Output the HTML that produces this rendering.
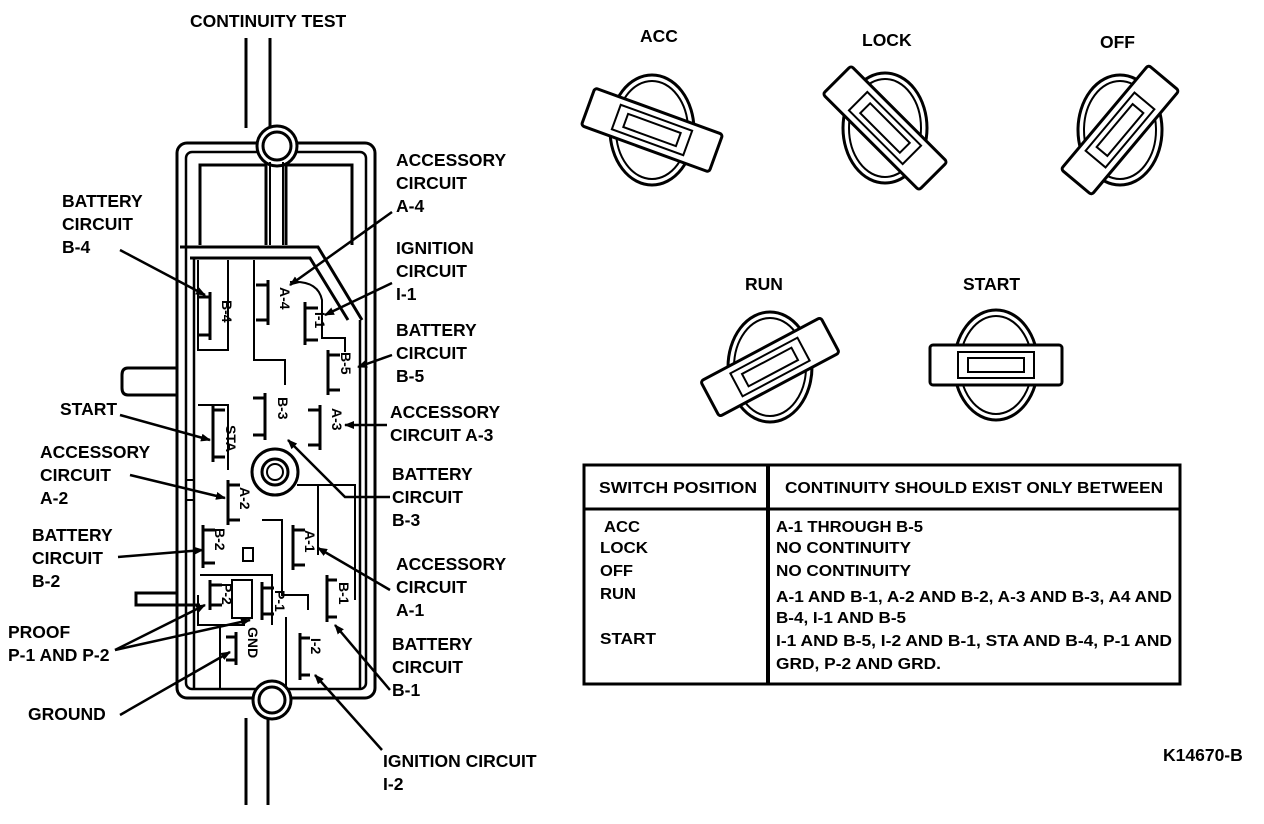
<!DOCTYPE html>
<html><head><meta charset="utf-8"><style>
html,body{margin:0;padding:0;background:#fff;}
svg{display:block;}
text{font-family:"Liberation Sans",sans-serif;font-weight:bold;fill:#000;}
</style></head><body>
<svg width="1264" height="824" viewBox="0 0 1264 824" xmlns="http://www.w3.org/2000/svg">
<defs>
<marker id="ar" markerWidth="10" markerHeight="8" refX="9" refY="4" orient="auto" markerUnits="userSpaceOnUse">
<path d="M0,0 L10,4 L0,8 z" fill="#000"/>
</marker>
</defs>
<g fill="none" stroke="#000" stroke-width="3">
<line x1="246" y1="38" x2="246" y2="128"/>
<line x1="270" y1="38" x2="270" y2="128"/>
<rect x="177" y="143" width="198" height="555" rx="10"/>
<rect x="186" y="152" width="180" height="537" rx="6" stroke-width="2.5"/>
<circle cx="277" cy="146" r="20" fill="#fff"/>
<circle cx="277" cy="146" r="14"/>
<path d="M200,245 V165 H266 V245"/>
<path d="M286,245 V165 H352 V245"/>
<line x1="270" y1="162" x2="270" y2="245" stroke-width="2"/>
<line x1="283" y1="162" x2="283" y2="245" stroke-width="2"/>
<path d="M180,247 H318 L362,320"/>
<path d="M190,258 H310 L348,320"/>
<line x1="194" y1="258" x2="194" y2="690" stroke-width="2.5"/>
<line x1="360" y1="320" x2="360" y2="690" stroke-width="2.5"/>
<path d="M198,260 V350 H228 V260" stroke-width="2"/>
<path d="M254,260 V360 H285 V385" stroke-width="2"/>
<path d="M290,282 Q318,280 322,300 V338 H345 V352" stroke-width="2"/>
<path d="M198,405 H228 V470" stroke-width="2"/>
<path d="M185,480 H194 V500 H185" stroke-width="2"/>
<circle cx="275" cy="472" r="23"/>
<circle cx="275" cy="472" r="13"/>
<circle cx="275" cy="472" r="8" stroke-width="2"/>
<path d="M297,485 H355 V600" stroke-width="2"/>
<path d="M318,485 V555" stroke-width="2"/>
<path d="M262,520 H282 V595 H308 V610" stroke-width="2"/>
<path d="M200,575 H272 V625" stroke-width="2"/>
<path d="M198,595 V625 H245" stroke-width="2"/>
<rect x="232" y="580" width="20" height="38" stroke-width="2"/>
<path d="M220,626 V690" stroke-width="2"/>
<path d="M286,617 V690" stroke-width="2"/>
<path d="M177,368 H128 Q122,368 122,375 V388 Q122,395 128,395 H177"/>
<path d="M177,593 H136 V605 H200"/>
<circle cx="272" cy="700" r="19" fill="#fff"/>
<circle cx="272" cy="700" r="13"/>
<line x1="246" y1="718" x2="246" y2="805"/>
<line x1="268" y1="718" x2="268" y2="805"/>
<rect x="243" y="548" width="10" height="13" stroke-width="2"/>
</g>
<g fill="none" stroke="#000" stroke-width="3">
<path d="M210,292 V340 M198,297 H210 M198,335 H210"/>
<path d="M268,280 V325 M256,285 H268 M256,320 H268"/>
<path d="M305,302 V345 M305,308 H318 M305,340 H318"/>
<path d="M328,350 V395 M328,355 H340 M328,390 H340"/>
<path d="M265,393 V440 M253,398 H265 M253,435 H265"/>
<path d="M320,405 V450 M320,410 H308 M320,445 H308"/>
<path d="M213,405 V462 M213,410 H225 M213,457 H225"/>
<path d="M228,480 V525 M228,485 H240 M228,520 H240"/>
<path d="M203,525 V568 M203,530 H215 M203,563 H215"/>
<path d="M293,525 V570 M293,530 H305 M293,565 H305"/>
<path d="M327,575 V622 M327,580 H337 M327,617 H337"/>
<path d="M210,580 V610 M210,585 H222 M210,605 H222"/>
<path d="M262,582 V620 M262,588 H274 M262,614 H274"/>
<path d="M236,632 V665 M236,637 H226 M236,660 H226"/>
<path d="M300,633 V680 M300,638 H310 M300,675 H310"/>
</g>
<g font-size="14">
<text transform="translate(222,300) rotate(90)">B-4</text>
<text transform="translate(280,287) rotate(90)">A-4</text>
<text transform="translate(315,312) rotate(90)">I-1</text>
<text transform="translate(341,352) rotate(90)">B-5</text>
<text transform="translate(278,397) rotate(90)">B-3</text>
<text transform="translate(332,408) rotate(90)">A-3</text>
<text transform="translate(226,425) rotate(90)">STA</text>
<text transform="translate(240,487) rotate(90)">A-2</text>
<text transform="translate(215,528) rotate(90)">B-2</text>
<text transform="translate(305,530) rotate(90)">A-1</text>
<text transform="translate(339,582) rotate(90)">B-1</text>
<text transform="translate(222,583) rotate(90)">P-2</text>
<text transform="translate(275,590) rotate(90)">P-1</text>
<text transform="translate(248,627) rotate(90)">GND</text>
<text transform="translate(311,638) rotate(90)">I-2</text>
</g>
<g stroke="#000" stroke-width="2.5" fill="none" marker-end="url(#ar)">
<line x1="120" y1="250" x2="205" y2="295"/>
<line x1="392" y1="212" x2="290" y2="285"/>
<line x1="392" y1="283" x2="325" y2="315"/>
<line x1="392" y1="355" x2="358" y2="367"/>
<line x1="387" y1="425" x2="345" y2="425"/>
<line x1="120" y1="415" x2="210" y2="440"/>
<line x1="130" y1="475" x2="225" y2="498"/>
<path d="M390,497 H345 L288,440"/>
<line x1="118" y1="557" x2="203" y2="550"/>
<line x1="390" y1="590" x2="318" y2="548"/>
<line x1="115" y1="650" x2="205" y2="605"/>
<line x1="115" y1="650" x2="250" y2="620"/>
<line x1="390" y1="690" x2="335" y2="625"/>
<line x1="120" y1="715" x2="230" y2="652"/>
<line x1="382" y1="750" x2="315" y2="675"/>
</g>
<g font-size="17.5">
<text x="190" y="27">CONTINUITY TEST</text>
<text x="62" y="207">BATTERY</text><text x="62" y="230">CIRCUIT</text><text x="62" y="253">B-4</text>
<text x="396" y="166">ACCESSORY</text><text x="396" y="189">CIRCUIT</text><text x="396" y="212">A-4</text>
<text x="396" y="254">IGNITION</text><text x="396" y="277">CIRCUIT</text><text x="396" y="300">I-1</text>
<text x="396" y="336">BATTERY</text><text x="396" y="359">CIRCUIT</text><text x="396" y="382">B-5</text>
<text x="390" y="418">ACCESSORY</text><text x="390" y="441">CIRCUIT A-3</text>
<text x="60" y="415">START</text>
<text x="40" y="458">ACCESSORY</text><text x="40" y="481">CIRCUIT</text><text x="40" y="504">A-2</text>
<text x="392" y="480">BATTERY</text><text x="392" y="503">CIRCUIT</text><text x="392" y="526">B-3</text>
<text x="32" y="541">BATTERY</text><text x="32" y="564">CIRCUIT</text><text x="32" y="587">B-2</text>
<text x="396" y="570">ACCESSORY</text><text x="396" y="593">CIRCUIT</text><text x="396" y="616">A-1</text>
<text x="8" y="638">PROOF</text><text x="8" y="661">P-1 AND P-2</text>
<text x="392" y="650">BATTERY</text><text x="392" y="673">CIRCUIT</text><text x="392" y="696">B-1</text>
<text x="28" y="720">GROUND</text>
<text x="383" y="767">IGNITION CIRCUIT</text><text x="383" y="790">I-2</text>
<text x="1163" y="761">K14670-B</text>
<text x="640" y="42">ACC</text>
<text x="862" y="46">LOCK</text>
<text x="1100" y="48">OFF</text>
<text x="745" y="290">RUN</text>
<text x="963" y="290">START</text>
</g>
<g fill="#fff" stroke="#000" stroke-width="3">
<g transform="translate(652,130)">
<ellipse rx="42" ry="55"/><ellipse rx="36" ry="49" stroke-width="2"/>
<g transform="rotate(20)"><rect x="-68" y="-20" width="136" height="40" rx="3"/><rect x="-38" y="-13" width="76" height="26" stroke-width="2"/><rect x="-28" y="-7" width="56" height="14" stroke-width="2"/></g>
</g>
<g transform="translate(885,128)">
<ellipse rx="42" ry="55"/><ellipse rx="36" ry="49" stroke-width="2"/>
<g transform="rotate(45)"><rect x="-68" y="-20" width="136" height="40" rx="3"/><rect x="-38" y="-13" width="76" height="26" stroke-width="2"/><rect x="-28" y="-7" width="56" height="14" stroke-width="2"/></g>
</g>
<g transform="translate(1120,130)">
<ellipse rx="42" ry="55"/><ellipse rx="36" ry="49" stroke-width="2"/>
<g transform="rotate(-50)"><rect x="-68" y="-20" width="136" height="40" rx="3"/><rect x="-38" y="-13" width="76" height="26" stroke-width="2"/><rect x="-28" y="-7" width="56" height="14" stroke-width="2"/></g>
</g>
<g transform="translate(770,367)">
<ellipse rx="42" ry="55"/><ellipse rx="36" ry="49" stroke-width="2"/>
<g transform="rotate(-28)"><rect x="-68" y="-20" width="136" height="40" rx="3"/><rect x="-38" y="-13" width="76" height="26" stroke-width="2"/><rect x="-28" y="-7" width="56" height="14" stroke-width="2"/></g>
</g>
<g transform="translate(996,365)">
<ellipse rx="42" ry="55"/><ellipse rx="36" ry="49" stroke-width="2"/>
<g><rect x="-66" y="-20" width="132" height="40" rx="3"/><rect x="-38" y="-13" width="76" height="26" stroke-width="2"/><rect x="-28" y="-7" width="56" height="14" stroke-width="2"/></g>
</g>
</g>
<g fill="none" stroke="#000">
<rect x="584" y="465" width="596" height="219" stroke-width="3"/>
<line x1="584" y1="509" x2="1180" y2="509" stroke-width="3"/>
<line x1="768" y1="465" x2="768" y2="684" stroke-width="4"/>
</g>
<g font-size="16">
<text x="599" y="493" textLength="158" lengthAdjust="spacingAndGlyphs">SWITCH POSITION</text>
<text x="785" y="493" textLength="378" lengthAdjust="spacingAndGlyphs">CONTINUITY SHOULD EXIST ONLY BETWEEN</text>
<text x="604" y="532" textLength="36" lengthAdjust="spacingAndGlyphs">ACC</text>
<text x="600" y="553" textLength="48" lengthAdjust="spacingAndGlyphs">LOCK</text>
<text x="600" y="576" textLength="33" lengthAdjust="spacingAndGlyphs">OFF</text>
<text x="600" y="599" textLength="36" lengthAdjust="spacingAndGlyphs">RUN</text>
<text x="600" y="644" textLength="56" lengthAdjust="spacingAndGlyphs">START</text>
<text x="776" y="532" textLength="147" lengthAdjust="spacingAndGlyphs">A-1 THROUGH B-5</text>
<text x="776" y="553" textLength="135" lengthAdjust="spacingAndGlyphs">NO CONTINUITY</text>
<text x="776" y="576" textLength="135" lengthAdjust="spacingAndGlyphs">NO CONTINUITY</text>
<text x="776" y="602" textLength="396" lengthAdjust="spacingAndGlyphs">A-1 AND B-1, A-2 AND B-2, A-3 AND B-3, A4 AND</text>
<text x="776" y="623" textLength="130" lengthAdjust="spacingAndGlyphs">B-4, I-1 AND B-5</text>
<text x="776" y="646" textLength="396" lengthAdjust="spacingAndGlyphs">I-1 AND B-5, I-2 AND B-1, STA AND B-4, P-1 AND</text>
<text x="776" y="669" textLength="165" lengthAdjust="spacingAndGlyphs">GRD, P-2 AND GRD.</text>
</g>
</svg>
</body></html>
